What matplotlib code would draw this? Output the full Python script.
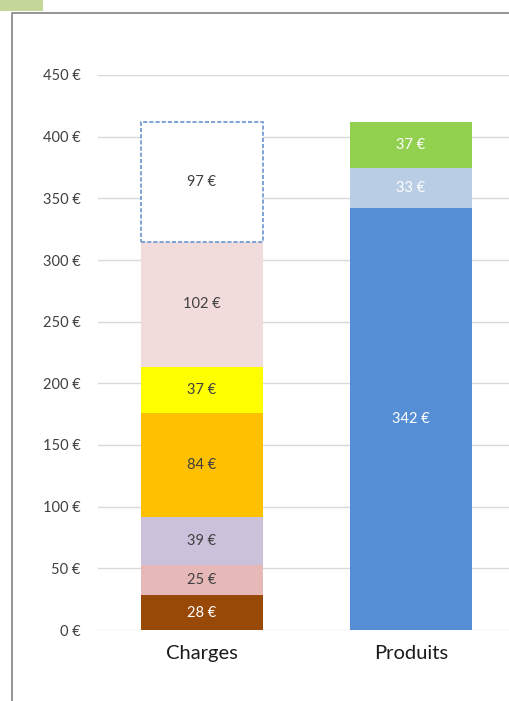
import matplotlib.pyplot as plt
from matplotlib.patches import Rectangle
from matplotlib.lines import Line2D

plt.rcParams['font.family'] = ['Lato', 'DejaVu Sans']

categories = ['Charges', 'Produits']

charges = [28, 25, 39, 84, 37, 102, 97]
charges_colors = ['#984807', '#E6B9B8', '#CCC1DA', '#FFC000', '#FFFF00', '#F2DCDB', 'none']
charges_text = ['white', '#404040', '#404040', '#404040', '#404040', '#404040', '#404040']

produits = [342, 33, 37]
produits_colors = ['#558ED5', '#B9CDE5', '#92D050']

yticks = [0, 50, 100, 150, 200, 250, 300, 350, 400, 450]

W, H = 509, 701
fig = plt.figure(figsize=(W / 100, H / 100), dpi=100)

# frame (cropped on right/bottom) and little green tab
fig.add_artist(Line2D([12 / W, 12 / W, 1], [0, 1 - 13 / H, 1 - 13 / H],
                      color='#8c8c8c', lw=1.3, transform=fig.transFigure))
fig.add_artist(Rectangle((0, 1 - 11 / H), 43 / W, 11 / H, color='#C4D79B',
                         transform=fig.transFigure, lw=0))

left, right = 97.5 / W, 515.5 / W
bottom, top = (H - 630) / H, (H - 75) / H
ax = fig.add_axes([left, bottom, right - left, top - bottom])

bw = 0.58
base = 0
for v, c, tc in zip(charges, charges_colors, charges_text):
    if c == 'none':
        ax.bar(0, v, bw, bottom=base, facecolor='white', edgecolor='#6A96CF',
               linestyle=(0, (2.5, 1.2)), lw=1.2, zorder=3)
    else:
        ax.bar(0, v, bw, bottom=base, color=c, zorder=3)
    ax.text(0, base + v / 2, f'{v} €', ha='center', va='center',
            fontsize=10.5, color=tc, zorder=4)
    base += v

base = 0
for v, c in zip(produits, produits_colors):
    ax.bar(1, v, bw, bottom=base, color=c, zorder=3)
    ax.text(1, base + v / 2, f'{v} €', ha='center', va='center',
            fontsize=10.5, color='white', zorder=4)
    base += v

ax.set_xlim(-0.5, 1.5)
ax.set_ylim(0, 450)
ax.set_yticks(yticks)
ax.set_yticklabels([f'{t} €' for t in yticks])
ax.set_xticks([0, 1])
ax.set_xticklabels(categories)
ax.tick_params(axis='y', length=0, labelsize=10.5, labelcolor='#404040', pad=12)
ax.tick_params(axis='x', length=0, labelsize=14.5, labelcolor='#1a1a1a', pad=11)
ax.grid(axis='y', color='#d9d9d9', lw=1)
ax.set_axisbelow(True)
for s in ax.spines.values():
    s.set_visible(False)

fig.savefig('out.png', dpi=100)
